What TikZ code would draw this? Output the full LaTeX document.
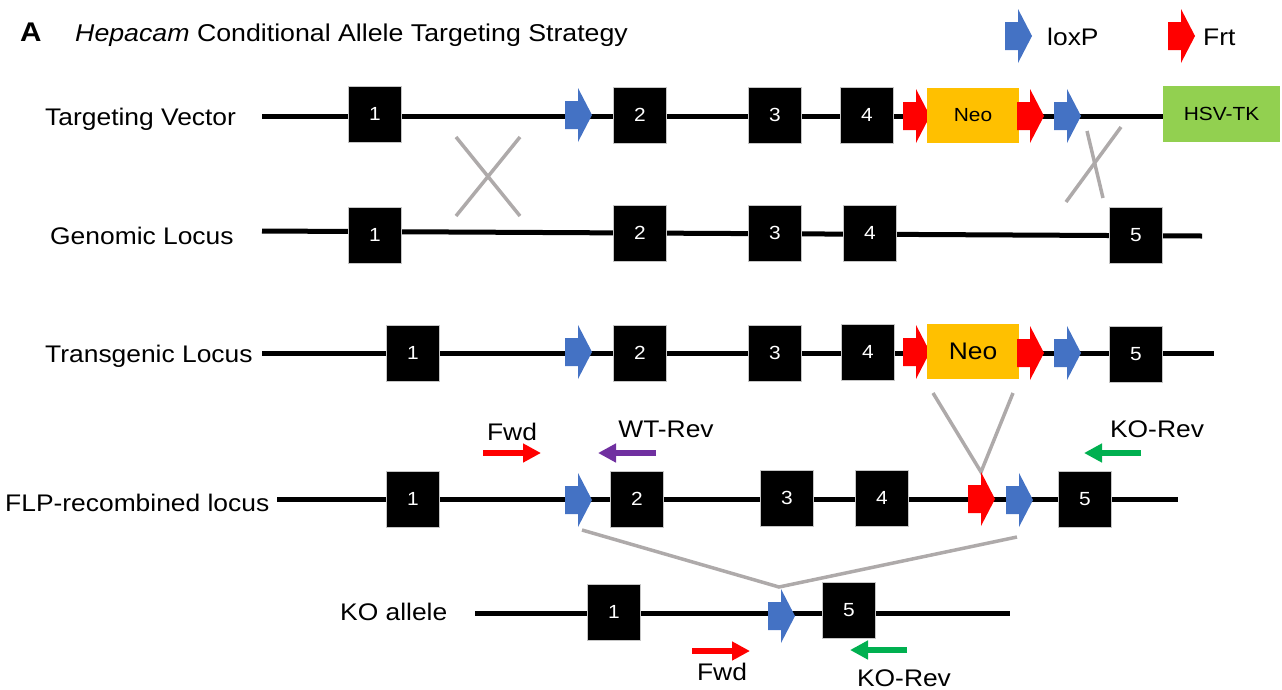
\documentclass[tikz,border=0pt]{standalone}
\usepackage{fontspec}
\setmainfont[FakeStretch=1.1]{Liberation Sans}
\usetikzlibrary{arrows.meta}
\definecolor{loxblue}{HTML}{4472C4}
\definecolor{frtred}{HTML}{FF0000}
\definecolor{neoorange}{HTML}{FFC000}
\definecolor{tkgreen}{HTML}{92D050}
\definecolor{crossgray}{HTML}{AEAAAA}
\definecolor{wtpurple}{HTML}{7030A0}
\definecolor{kogreen}{HTML}{00B050}
\newcommand\featarr[3]{\fill[#3] (#1,#2) ++(0,-14) -- ++(13,0) -- ++(0,-13) -- ++(14,27) -- ++(-14,27) -- ++(0,-13) -- ++(-13,0) -- cycle;}
\begin{document}
\begin{tikzpicture}[x=1pt,y=-1pt,
  exon/.style={fill=black, draw=gray!45, line width=0.6pt, minimum width=53pt, minimum height=56pt, inner sep=0pt, text=white, font=\fontsize{19}{19}\selectfont},
  lbl/.style={anchor=base west, inner sep=0pt, font=\fontsize{24}{24}\selectfont},
  ptxt/.style={anchor=base, inner sep=0pt, font=\fontsize{24}{24}\selectfont},
  dna/.style={line width=5pt},
  xline/.style={draw=crossgray, line width=3.5pt},
  primer/.style={line width=6pt, -{Triangle[length=18pt,width=18pt]}}]
\useasboundingbox (0,0) rectangle (1282,689);

% title
\node[lbl, font=\fontsize{27}{27}\selectfont\bfseries] (A) at (20,41) {A};
\node[lbl, font=\fontsize{24.3}{24.3}\selectfont] (title) at (75,41) {\textit{Hepacam} Conditional Allele Targeting Strategy};

% legend
\featarr{1005}{36}{loxblue}
\node[lbl] (lgl) at (1047,45) {loxP};
\featarr{1168}{36}{frtred}
\node[lbl] (lgf) at (1203,45) {Frt};

% row labels
\node[lbl] (l1) at (45,125) {Targeting Vector};
\node[lbl] (l2) at (50,244) {Genomic Locus};
\node[lbl] (l3) at (45,362) {Transgenic Locus};
\node[lbl] (l4) at (5,511) {FLP-recombined locus};
\node[lbl] (l5) at (340,620) {KO allele};

% ---- row 1: targeting vector
\coordinate (r1s) at (262,116);
\coordinate (r1e) at (1170,116);
\draw[dna] (r1s) -- (r1e);
\node[exon] (t1) at (375,114) {1};
\node[exon] (t2) at (640,115) {2};
\node[exon] (t3) at (775,115) {3};
\node[exon] (t4) at (867,115) {4};
\featarr{565}{115}{loxblue}
\featarr{903}{116}{frtred}
\node[fill=neoorange, minimum width=92pt, minimum height=55pt, inner sep=0pt, font=\fontsize{19}{19}\selectfont] (neo1) at (973,115.5) {Neo};
\featarr{1017}{116}{frtred}
\featarr{1054}{116}{loxblue}
\node[fill=tkgreen, minimum width=117pt, minimum height=56pt, inner sep=0pt, font=\fontsize{19}{19}\selectfont] (tk) at (1221.5,114) {HSV-TK};

% crosses
\coordinate (c1a) at (456,137);
\coordinate (c1b) at (520,216);
\coordinate (c1c) at (520,137);
\coordinate (c1d) at (456,216);
\draw[xline] (c1a) -- (c1b);
\draw[xline] (c1c) -- (c1d);
\coordinate (c2a) at (1121,127);
\coordinate (c2b) at (1066,202);
\coordinate (c2c) at (1087,131);
\coordinate (c2d) at (1103,198);
\draw[xline] (c2a) -- (c2b);
\draw[xline] (c2c) -- (c2d);

% ---- row 2: genomic locus
\coordinate (r2s) at (262,231);
\coordinate (r2e) at (1202,236);
\draw[dna] (r2s) -- (r2e);
\node[exon] (g1) at (375,235) {1};
\node[exon] (g2) at (640,233) {2};
\node[exon] (g3) at (775,233) {3};
\node[exon] (g4) at (870,233) {4};
\node[exon] (g5) at (1136,235) {5};

% ---- row 3: transgenic locus
\coordinate (r3s) at (262,353);
\coordinate (r3e) at (1214,353);
\draw[dna] (r3s) -- (r3e);
\node[exon] (s1) at (413,353) {1};
\featarr{565}{352}{loxblue}
\node[exon] (s2) at (640,353) {2};
\node[exon] (s3) at (775,353) {3};
\node[exon] (s4) at (868,352) {4};
\featarr{903}{352}{frtred}
\node[fill=neoorange, minimum width=92pt, minimum height=55pt, inner sep=0pt, font=\fontsize{24}{24}\selectfont] (neo3) at (973,351.5) {Neo};
\featarr{1017}{353}{frtred}
\featarr{1054}{353}{loxblue}
\node[exon] (s5) at (1136,354) {5};

% V lines
\coordinate (v1) at (933,393);
\coordinate (v2) at (981,472);
\coordinate (v3) at (1013,393);
\draw[xline] (v1) -- (v2) -- (v3);

% primers row 4
\coordinate (pf1) at (483,453);
\coordinate (pf2) at (541,453);
\draw[primer, draw=frtred] (pf1) -- (pf2);
\node[ptxt] (tf1) at (512,440) {Fwd};
\coordinate (pw1) at (656,453);
\coordinate (pw2) at (598,453);
\draw[primer, draw=wtpurple] (pw1) -- (pw2);
\node[ptxt] (tw) at (666,437) {WT-Rev};
\coordinate (pk1) at (1141,453);
\coordinate (pk2) at (1084,453);
\draw[primer, draw=kogreen] (pk1) -- (pk2);
\node[ptxt] (tk1) at (1157,437) {KO-Rev};

% ---- row 4: FLP-recombined locus
\coordinate (r4s) at (277,499);
\coordinate (r4e) at (1178,499);
\draw[dna] (r4s) -- (r4e);
\node[exon] (f1) at (413,499) {1};
\featarr{565}{500}{loxblue}
\node[exon] (f2) at (637,499) {2};
\node[exon] (f3) at (787,498) {3};
\node[exon] (f4) at (882,498) {4};
\featarr{968}{499}{frtred}
\featarr{1006}{500}{loxblue}
\node[exon] (f5) at (1085,499) {5};

% KO lines
\coordinate (k1) at (582,530);
\coordinate (k2) at (779,587);
\coordinate (k3) at (1017,537);
\draw[xline] (k1) -- (k2) -- (k3);

% ---- row 5: KO allele
\coordinate (r5s) at (475,613);
\coordinate (r5e) at (1010,613);
\draw[dna] (r5s) -- (r5e);
\node[exon] (k1e) at (614,612) {1};
\featarr{768}{616}{loxblue}
\node[exon] (k5e) at (849,610) {5};

% primers row 5
\coordinate (qf1) at (692,651);
\coordinate (qf2) at (750,651);
\draw[primer, draw=frtred] (qf1) -- (qf2);
\node[ptxt] (tf2) at (722,680) {Fwd};
\coordinate (qk1) at (907,650);
\coordinate (qk2) at (850,650);
\draw[primer, draw=kogreen] (qk1) -- (qk2);
\node[ptxt] (tk2) at (904,686) {KO-Rev};
\end{tikzpicture}
\end{document}
